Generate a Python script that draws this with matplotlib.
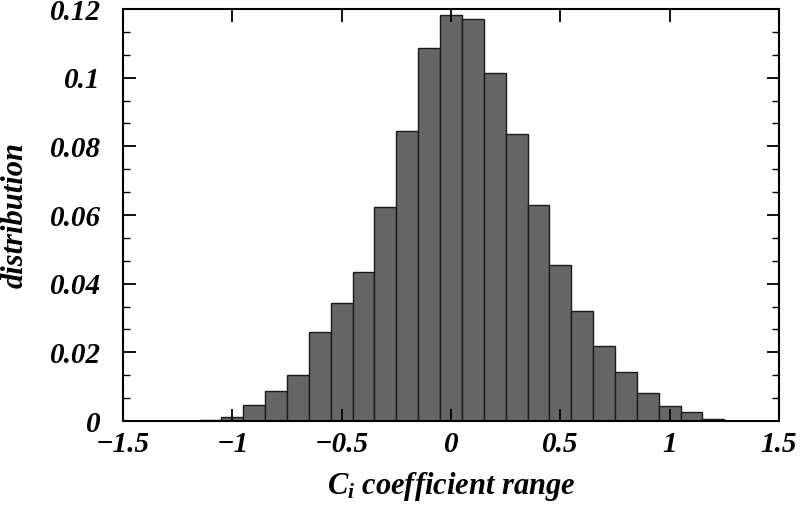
import matplotlib
matplotlib.use("Agg")
import matplotlib.pyplot as plt
from matplotlib.ticker import MultipleLocator, FuncFormatter
import numpy as np

bin_centers = [-1.2, -1.1, -1.0, -0.9, -0.8, -0.7, -0.6, -0.5, -0.4, -0.3, -0.2, -0.1,
               0.0, 0.1, 0.2, 0.3, 0.4, 0.5, 0.6, 0.7, 0.8, 0.9, 1.0, 1.1, 1.2]
distribution = [0.0001, 0.0003, 0.0011, 0.0046, 0.0086, 0.0134, 0.0259, 0.0345, 0.0434,
                0.0624, 0.0845, 0.1086, 0.1183, 0.1170, 0.1015, 0.0835, 0.0628, 0.0453,
                0.0320, 0.0217, 0.0144, 0.0081, 0.0044, 0.0025, 0.0007]
bin_width = 0.1
x_ticks = [-1.5, -1.0, -0.5, 0.0, 0.5, 1.0, 1.5]
y_ticks = [0, 0.02, 0.04, 0.06, 0.08, 0.1, 0.12]

plt.rcParams['font.family'] = ['Liberation Serif', 'DejaVu Serif']
plt.rcParams['font.weight'] = 'bold'
plt.rcParams['font.style'] = 'italic'
plt.rcParams['mathtext.fontset'] = 'custom'
plt.rcParams['mathtext.rm'] = 'Liberation Serif:bold:italic'
plt.rcParams['mathtext.it'] = 'Liberation Serif:bold:italic'
plt.rcParams['mathtext.bf'] = 'Liberation Serif:bold:italic'

fig = plt.figure(figsize=(8, 5.12), dpi=100)
ax = fig.add_axes([123/800, 1-421/512, (779-123)/800, (421-9)/512])

ax.bar(bin_centers, distribution, width=bin_width, color='#666666',
       edgecolor='#1a1a1a', linewidth=1.0, align='center')

ax.set_xlim(-1.5, 1.5)
ax.set_ylim(0, 0.12)
ax.set_xticks(x_ticks)
ax.set_yticks(y_ticks)
ax.yaxis.set_minor_locator(MultipleLocator(0.02/3))

def fmt(v, pos):
    s = ('%g' % round(v, 4))
    return s.replace('-', '\u2212')
ax.xaxis.set_major_formatter(FuncFormatter(fmt))
ax.yaxis.set_major_formatter(FuncFormatter(fmt))

ax.tick_params(axis='both', which='major', direction='in', length=9, width=1.3,
               top=True, right=True, labelsize=21)
ax.tick_params(axis='x', which='major', pad=7)
ax.tick_params(axis='y', which='major', pad=16)
ax.tick_params(axis='both', which='minor', direction='in', length=5, width=1.0,
               top=False, right=True)
for lab in ax.get_xticklabels() + ax.get_yticklabels():
    lab.set_fontweight('bold')
    lab.set_fontstyle('italic')

for sp in ax.spines.values():
    sp.set_linewidth(1.5)

ax.set_xlabel('$C_i$ coefficient range', fontsize=22, fontweight='bold',
              fontstyle='italic')
ax.set_ylabel('distribution', fontsize=22, fontweight='bold',
              fontstyle='italic')
ax.xaxis.set_label_coords(0.5, (421-470)/412)
ax.yaxis.set_label_coords((30-123)/656, 0.5)

fig.savefig('out.png', dpi=100)
